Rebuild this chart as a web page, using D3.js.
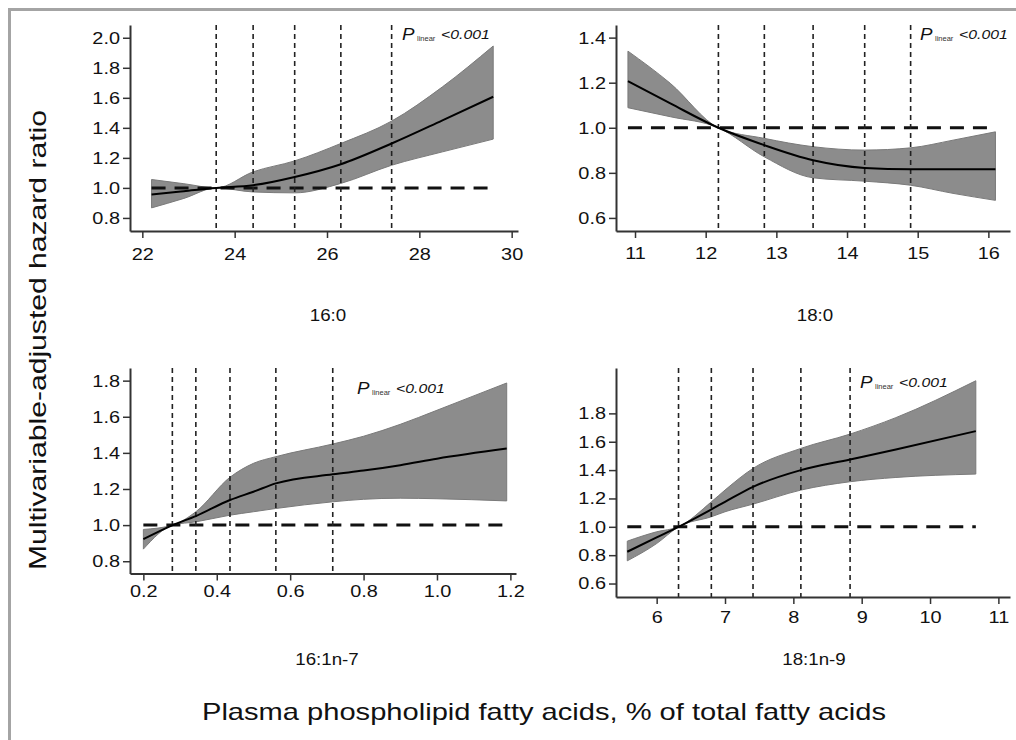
<!DOCTYPE html>
<html>
<head>
<meta charset="utf-8">
<script src="https://cdn.jsdelivr.net/npm/d3@7"></script>
<style>
  body { margin: 0; background: #fff; }
  svg { display: block; font-family: "Liberation Sans", Arial, sans-serif; }
</style>
</head>
<body>
<svg id="chart" width="1016" height="740"></svg>
<script>
// ---- data ----
// 16:0
const p160X   = [22.2, 22.9, 23.6, 24.4, 25.3, 26.3, 27.4, 28.5, 29.6];
const p160Fit = [0.956, 0.978, 1.0, 1.018, 1.073, 1.158, 1.296, 1.45, 1.607];
const p160Lo  = [0.867, 0.93, 1.0, 0.973, 0.967, 1.03, 1.151, 1.24, 1.325];
const p160Hi  = [1.056, 1.028, 1.0, 1.107, 1.18, 1.296, 1.445, 1.673, 1.945];
const p160Knots = [23.6, 24.4, 25.3, 26.3, 27.4];
const p160XTicks = [22, 24, 26, 28, 30];
const p160YTicks = [0.8, 1.0, 1.2, 1.4, 1.6, 1.8, 2.0];

// 18:0
const p180X   = [10.9, 11.5, 12.18, 12.83, 13.52, 14.25, 14.9, 15.5, 16.1];
const p180Fit = [1.207, 1.108, 1.0, 0.923, 0.856, 0.822, 0.816, 0.816, 0.816];
const p180Lo  = [1.089, 1.049, 1.0, 0.871, 0.778, 0.763, 0.745, 0.709, 0.678];
const p180Hi  = [1.34, 1.197, 1.0, 0.953, 0.916, 0.901, 0.911, 0.945, 0.982];
const p180Knots = [12.18, 12.83, 13.52, 14.25, 14.9];
const p180XTicks = [11, 12, 13, 14, 15, 16];
const p180YTicks = [0.6, 0.8, 1.0, 1.2, 1.4];

// 16:1n-7
const p161X   = [0.2, 0.28, 0.343, 0.436, 0.5, 0.561, 0.716, 0.8, 0.9, 1.0, 1.19];
const p161Fit = [0.922, 1.0, 1.05, 1.139, 1.185, 1.231, 1.281, 1.302, 1.332, 1.368, 1.424];
const p161Lo  = [0.867, 1.0, 1.018, 1.055, 1.074, 1.092, 1.129, 1.143, 1.149, 1.146, 1.134];
const p161Hi  = [0.976, 1.0, 1.074, 1.265, 1.342, 1.379, 1.449, 1.492, 1.558, 1.636, 1.787];
const p161Knots = [0.279, 0.343, 0.436, 0.561, 0.716];
const p161XTicks = [0.2, 0.4, 0.6, 0.8, 1.0, 1.2];
const p161YTicks = [0.8, 1.0, 1.2, 1.4, 1.6, 1.8];

// 18:1n-9
const p181X   = [5.57, 6.0, 6.32, 6.8, 7.0, 7.41, 8.11, 8.83, 9.5, 10.67];
const p181Fit = [0.824, 0.925, 1.0, 1.123, 1.176, 1.282, 1.40, 1.475, 1.545, 1.675];
const p181Lo  = [0.76, 0.882, 1.0, 1.071, 1.106, 1.16, 1.259, 1.318, 1.348, 1.372];
const p181Hi  = [0.899, 0.965, 1.0, 1.176, 1.259, 1.412, 1.553, 1.654, 1.77, 2.03];
const p181Knots = [6.32, 6.8, 7.41, 8.11, 8.83];
const p181XTicks = [6, 7, 8, 9, 10, 11];
const p181YTicks = [0.6, 0.8, 1.0, 1.2, 1.4, 1.6, 1.8];

const panelNames = ['16:0', '18:0', '16:1n-7', '18:1n-9'];
const yTitle = 'Multivariable-adjusted hazard ratio';
const xTitle = 'Plasma phospholipid fatty acids, % of total fatty acids';

// ---- layout ----
const panels = [
  { name: panelNames[0], xs: p160X, fit: p160Fit, lo: p160Lo, hi: p160Hi, knots: p160Knots,
    xTicks: p160XTicks, yTicks: p160YTicks, xFmt: d3.format('d'),
    xDom: [21.733, 30.137], xRange: [130, 518], yDom: [0.713, 2.085], yRange: [231, 25],
    xPad: 10, titleX: 328, titleY: 321, pX: 402, pY: 40 },
  { name: panelNames[1], xs: p180X, fit: p180Fit, lo: p180Lo, hi: p180Hi, knots: p180Knots,
    xTicks: p180XTicks, yTicks: p180YTicks, xFmt: d3.format('d'),
    xDom: [10.731, 16.306], xRange: [616, 1010], yDom: [0.542, 1.456], yRange: [231, 25],
    xPad: 8.5, titleX: 815, titleY: 321, pX: 920, pY: 40 },
  { name: panelNames[2], xs: p161X, fit: p161Fit, lo: p161Lo, hi: p161Hi, knots: p161Knots,
    xTicks: p161XTicks, yTicks: p161YTicks, xFmt: d3.format('.1f'),
    xDom: [0.1636, 1.2153], xRange: [130, 516], yDom: [0.732, 1.870], yRange: [573.5, 368],
    xPad: 4, titleX: 327, titleY: 665, pX: 357, pY: 394 },
  { name: panelNames[3], xs: p181X, fit: p181Fit, lo: p181Lo, hi: p181Hi, knots: p181Knots,
    xTicks: p181XTicks, yTicks: p181YTicks, xFmt: d3.format('d'),
    xDom: [5.405, 11.17], xRange: [616, 1010], yDom: [0.505, 2.12], yRange: [597, 368],
    xPad: 7, titleX: 814, titleY: 665, pX: 860, pY: 388 }
];

const svg = d3.select('#chart');

// grey frame (left and top edges only)
svg.append('path')
  .attr('d', 'M9.5,740V9.5H1016')
  .attr('fill', 'none')
  .attr('stroke', '#a4a4a4')
  .attr('stroke-width', 3);

panels.forEach(drawPanel);

function drawPanel(p) {
  const x = d3.scaleLinear().domain(p.xDom).range(p.xRange);
  const y = d3.scaleLinear().domain(p.yDom).range(p.yRange);
  const g = svg.append('g');

  const pts = p.xs.map((v, i) => ({ x: v, fit: p.fit[i], lo: p.lo[i], hi: p.hi[i] }));

  // confidence band
  g.append('path')
    .datum(pts)
    .attr('d', d3.area()
      .x(d => x(d.x)).y0(d => y(d.lo)).y1(d => y(d.hi))
      .curve(d3.curveMonotoneX))
    .attr('fill', '#8c8c8c')
    .attr('stroke', '#7a7a7a')
    .attr('stroke-width', 1);

  // reference line at HR = 1
  g.append('line')
    .attr('x1', x(p.xs[0])).attr('x2', x(p.xs[p.xs.length - 1]))
    .attr('y1', y(1)).attr('y2', y(1))
    .attr('stroke', '#111')
    .attr('stroke-width', 3)
    .attr('stroke-dasharray', '14,9');

  // knot (quantile) lines
  g.selectAll('line.knot')
    .data(p.knots)
    .join('line')
    .attr('class', 'knot')
    .attr('x1', d => x(d)).attr('x2', d => x(d))
    .attr('y1', p.yRange[1]).attr('y2', p.yRange[0])
    .attr('stroke', '#222')
    .attr('stroke-width', 1.6)
    .attr('stroke-dasharray', '5,4');

  // fitted spline
  g.append('path')
    .datum(pts)
    .attr('d', d3.line().x(d => x(d.x)).y(d => y(d.fit)).curve(d3.curveMonotoneX))
    .attr('fill', 'none')
    .attr('stroke', '#000')
    .attr('stroke-width', 2);

  // axes
  const xAxis = d3.axisBottom(x)
    .tickValues(p.xTicks).tickFormat(p.xFmt)
    .tickSize(7).tickSizeOuter(0).tickPadding(p.xPad);
  const yAxis = d3.axisLeft(y)
    .tickValues(p.yTicks).tickFormat(d3.format('.1f'))
    .tickSize(7).tickSizeOuter(0).tickPadding(3);

  const gx = g.append('g').attr('transform', `translate(0,${p.yRange[0]})`).call(xAxis);
  const gy = g.append('g').attr('transform', `translate(${p.xRange[0]},0)`).call(yAxis);
  [gx, gy].forEach(ax => {
    ax.select('.domain').attr('stroke', '#333').attr('stroke-width', 2);
    ax.selectAll('.tick line').attr('stroke', '#333').attr('stroke-width', 1.5);
    ax.selectAll('.tick text')
      .attr('fill', '#111')
      .style('font-size', '17px')
      .style('font-family', '"Liberation Sans", Arial, sans-serif');
  });

  // panel title
  g.append('text')
    .attr('x', p.titleX).attr('y', p.titleY)
    .attr('text-anchor', 'middle')
    .attr('fill', '#111')
    .style('font-size', '16px')
    .text(p.name);

  // P linear annotation
  g.append('text')
    .attr('x', p.pX).attr('y', p.pY)
    .attr('fill', '#111')
    .style('font-size', '16px').style('font-style', 'italic')
    .text('P');
  g.append('text')
    .attr('class', 'keep')
    .attr('x', p.pX + 15).attr('y', p.pY + 1)
    .attr('fill', '#333')
    .style('font-size', '7.5px')
    .text('linear');
  g.append('text')
    .attr('x', p.pX + 39).attr('y', p.pY - 1)
    .attr('fill', '#111')
    .style('font-size', '13.5px').style('font-style', 'italic')
    .text('<0.001');
}

// shared axis titles
svg.append('text')
  .attr('transform', 'translate(46,340) rotate(-90)')
  .attr('text-anchor', 'middle')
  .attr('fill', '#111')
  .attr('textLength', 460)
  .attr('lengthAdjust', 'spacingAndGlyphs')
  .style('font-size', '24px')
  .text(yTitle);

svg.append('text')
  .attr('x', 544).attr('y', 720)
  .attr('text-anchor', 'middle')
  .attr('fill', '#111')
  .attr('textLength', 684)
  .attr('lengthAdjust', 'spacingAndGlyphs')
  .style('font-size', '24px')
  .text(xTitle);

// the source lettering is a bit wider than Liberation Sans, stretch the rest to match
svg.selectAll('text').each(function() {
  if (this.hasAttribute('textLength') || this.classList.contains('keep')) return;
  const w = this.getComputedTextLength();
  d3.select(this).attr('textLength', w * 1.17).attr('lengthAdjust', 'spacingAndGlyphs');
});
</script>
</body>
</html>
